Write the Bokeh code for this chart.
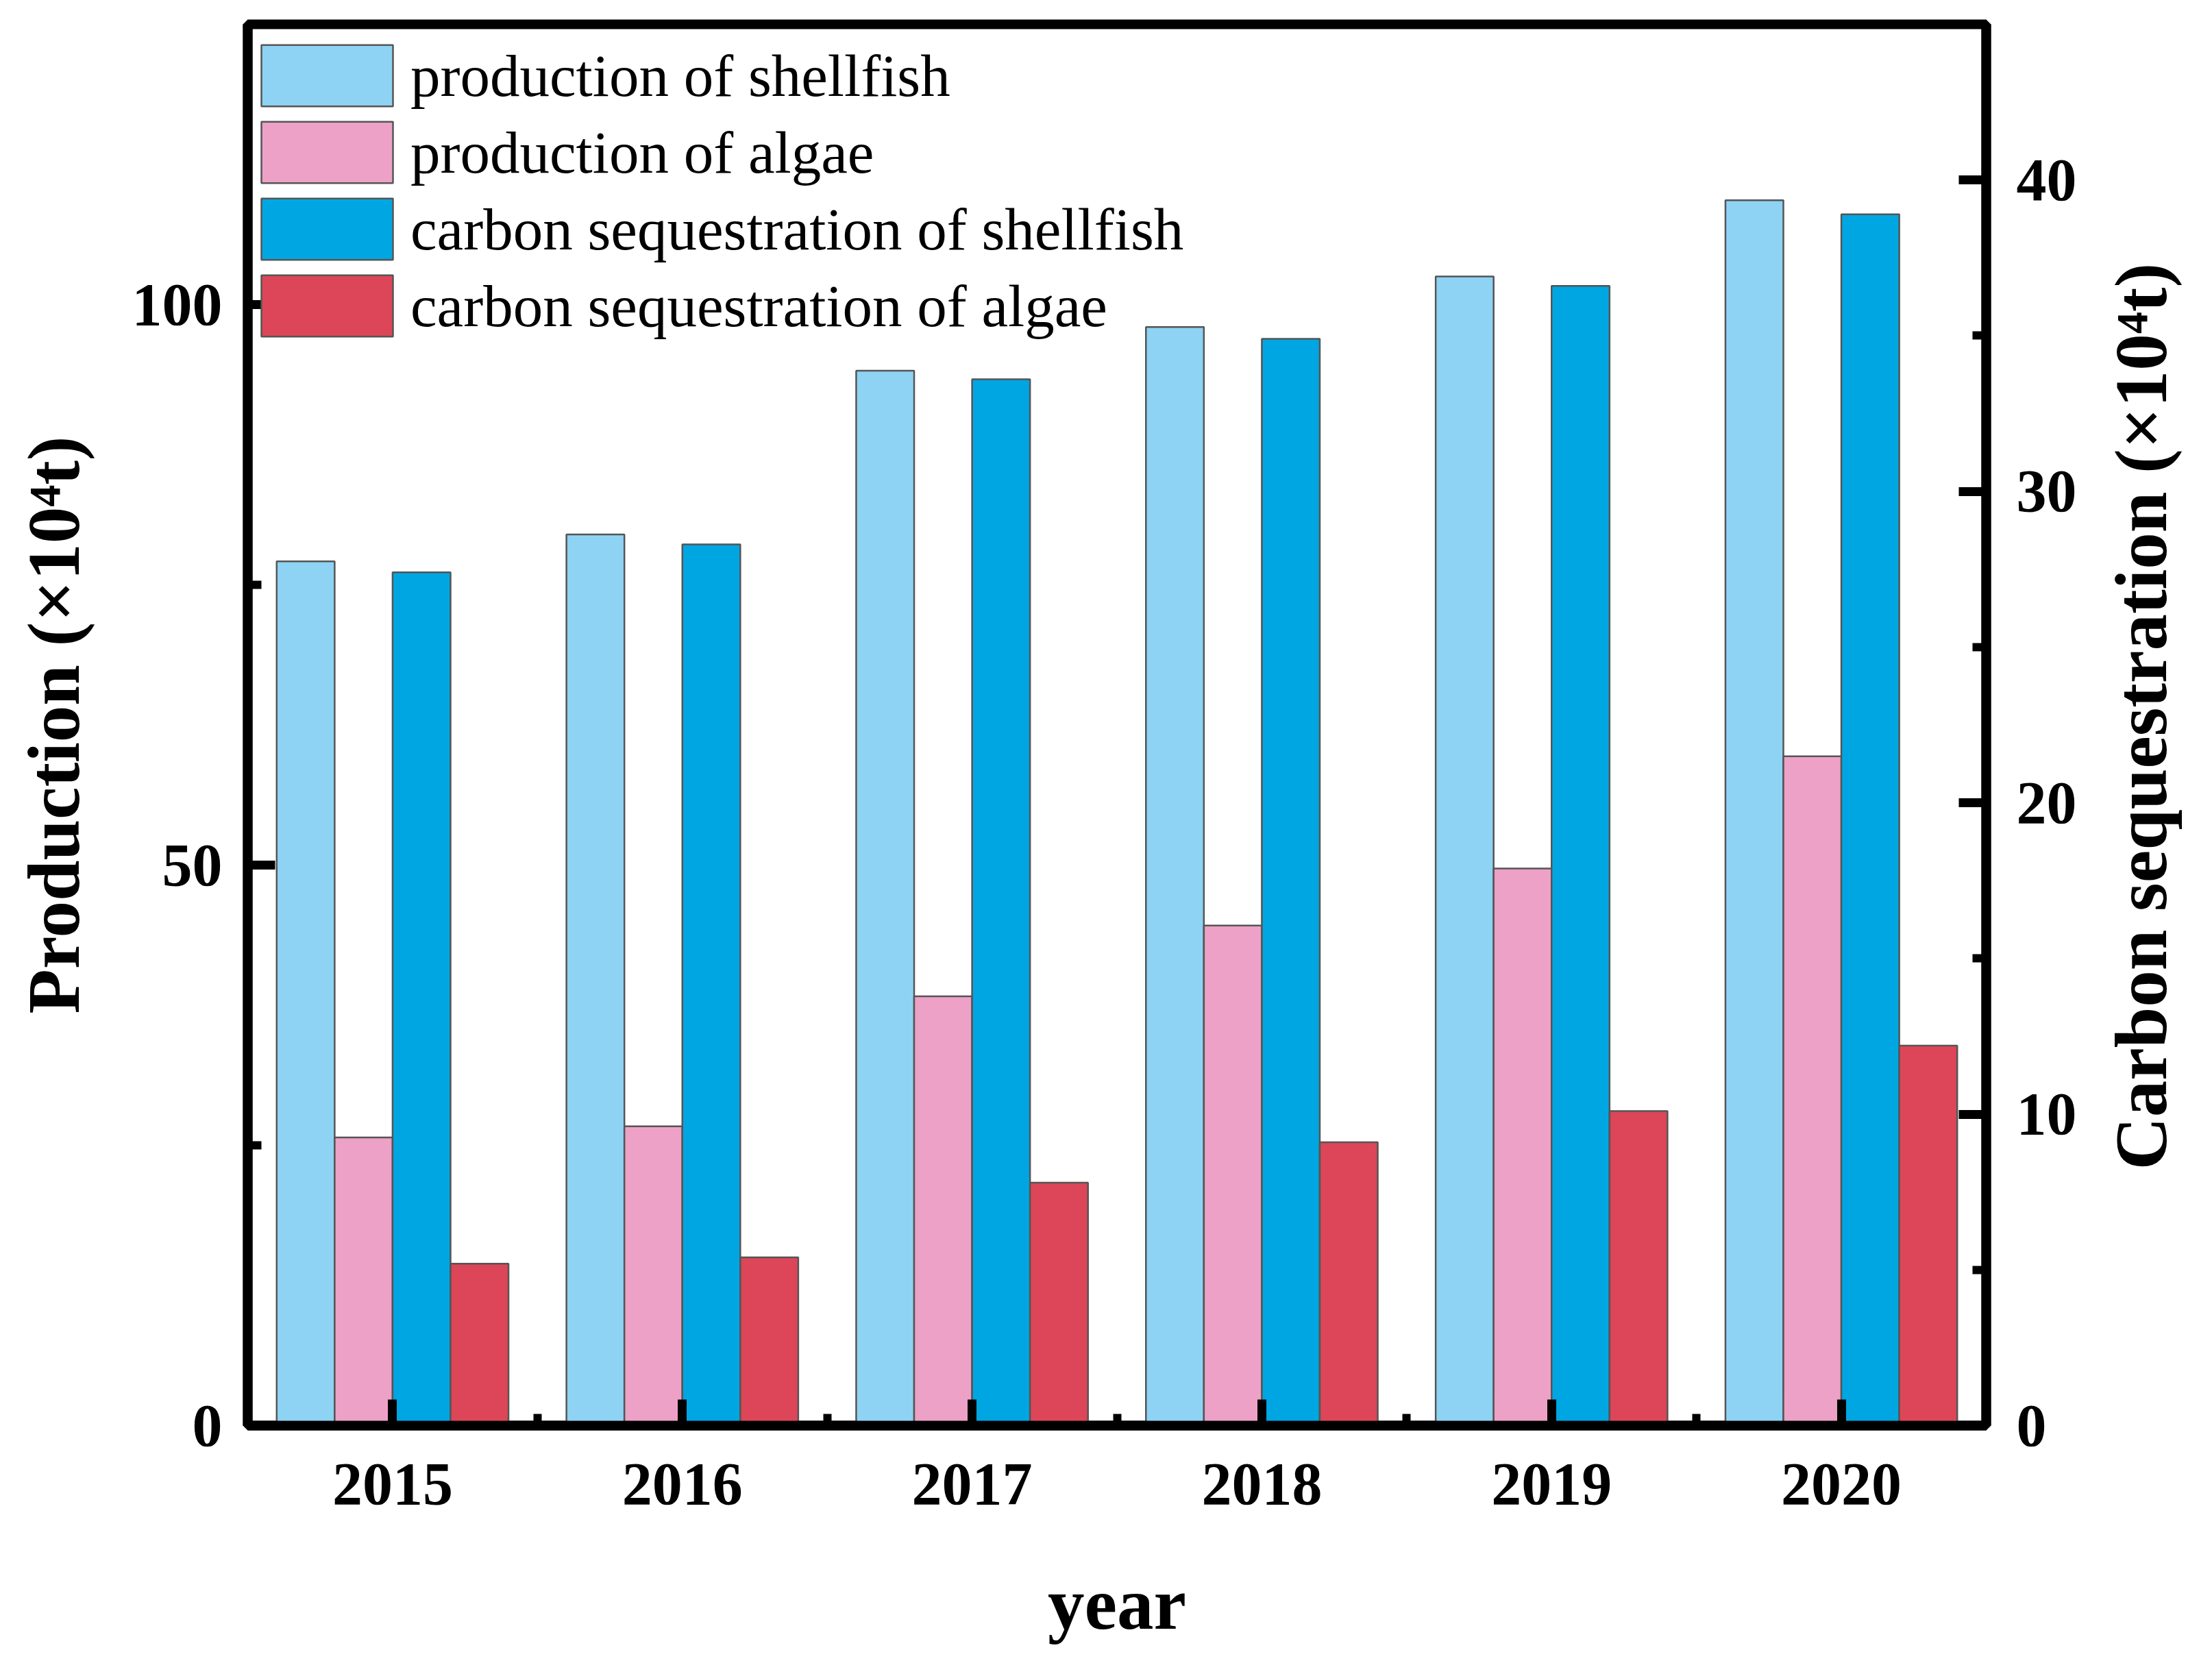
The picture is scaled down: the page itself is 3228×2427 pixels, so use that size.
import math
from bokeh.plotting import figure
from bokeh.layouts import row
from bokeh.models import Range1d, LinearAxis, FixedTicker, ColumnDataSource, Legend, LegendItem
from bokeh.transform import dodge
from bokeh.core.properties import value
from bokeh.embed import file_html
from bokeh.resources import INLINE

# ---- data ----
years = ["2015", "2016", "2017", "2018", "2019", "2020"]
production_shellfish = [77.1, 79.5, 94.1, 98.0, 102.5, 109.3]
production_algae = [25.7, 26.7, 38.3, 44.6, 49.7, 59.7]
carbon_seq_shellfish = [27.4, 28.3, 33.6, 34.9, 36.6, 38.9]
carbon_seq_algae = [5.2, 5.4, 7.8, 9.1, 10.1, 12.2]

left_ticks = [0, 50, 100]
left_minor = [25, 75]
right_ticks = [0, 10, 20, 30, 40]
right_minor = [5, 15, 25, 35]

colors = ["#8ed3f4", "#eda1c6", "#00a6e2", "#dc4658"]
labels = ["production of shellfish", "production of algae",
          "carbon sequestration of shellfish", "carbon sequestration of algae"]
right_axis_title = ["Carbon sequestration (×10⁴t)"]

FONT = "Liberation Serif"

x_idx = list(range(len(years)))
src = ColumnDataSource(dict(x=x_idx, ps=production_shellfish, pa=production_algae,
                            cs=carbon_seq_shellfish, ca=carbon_seq_algae))

W_MAIN, W_SIDE, H = 3060, 150, 2411
BL, BT, BR, BB = 361, 35, 162, 331
p = figure(width=W_MAIN, height=H,
           x_range=Range1d(-0.5, len(years) - 0.5),
           y_range=Range1d(0, 125),
           output_backend="svg", toolbar_location=None,
           min_border_left=BL, min_border_right=BR,
           min_border_top=BT, min_border_bottom=BB,
           background_fill_color="white", border_fill_color="white")
p.extra_y_ranges = {"cs": Range1d(0, 45)}
p.xgrid.visible = False
p.ygrid.visible = False
p.outline_line_color = "black"
p.outline_line_width = 14
p.outline_line_alpha = 1.0

offsets = [-0.3, -0.1, 0.1, 0.3]
fields = ["ps", "pa", "cs", "ca"]
renderers = []
for off, fld, col in zip(offsets, fields, colors):
    kw = {}
    if fld in ("cs", "ca"):
        kw["y_range_name"] = "cs"
    r = p.vbar(x=dodge("x", off), top=fld, bottom=0, width=0.2, source=src,
               fill_color=col, line_color="#555555", line_width=2.5, **kw)
    renderers.append(r)

def style_axis(ax):
    ax.axis_line_width = 14
    ax.axis_line_color = "black"
    ax.major_tick_line_width = 13
    ax.minor_tick_line_width = 12
    ax.major_tick_line_color = "black"
    ax.minor_tick_line_color = "black"
    ax.major_tick_out = 0
    ax.minor_tick_out = 0
    ax.major_label_text_font = FONT
    ax.major_label_text_font_style = "bold"
    ax.major_label_text_font_size = "88px"
    ax.major_label_text_color = "black"
    ax.axis_label_text_font = FONT
    ax.axis_label_text_font_style = "bold"
    ax.axis_label_text_font_size = "107px"
    ax.axis_label_text_color = "black"

# bottom axis
xa = p.xaxis[0]
style_axis(xa)
xa.ticker = FixedTicker(ticks=x_idx, minor_ticks=[i + 0.5 for i in x_idx[:-1]])
xa.major_label_overrides = {i: y for i, y in enumerate(years)}
xa.major_tick_in = 38
xa.minor_tick_in = 17
xa.major_label_standoff = 56
xa.axis_label = "year"
xa.axis_label_standoff = 84

# left axis
ya = p.yaxis[0]
style_axis(ya)
ya.ticker = FixedTicker(ticks=left_ticks, minor_ticks=left_minor)
ya.major_tick_in = 40
ya.minor_tick_in = 20
ya.major_label_standoff = 37
ya.axis_label = "Production (×10⁴t)"
ya.axis_label_standoff = 52

# right axis (its title is drawn in the narrow strip to the right, reading bottom-to-top)
ra = LinearAxis(y_range_name="cs")
style_axis(ra)
ra.ticker = FixedTicker(ticks=right_ticks, minor_ticks=right_minor)
ra.major_tick_in = 40
ra.minor_tick_in = 20
ra.major_label_standoff = 44
p.add_layout(ra, "right")

# legend placed by its bottom-left corner (screen px from the frame's bottom-left)
GH = 112
frame_h = H - BT - BB
legend = Legend(items=[LegendItem(label=l, renderers=[r]) for l, r in zip(labels, renderers)],
                location=(-4, frame_h - 19 - 4 * GH),
                orientation="vertical",
                glyph_width=240, glyph_height=GH, label_standoff=2, spacing=0,
                label_text_font=FONT, label_text_font_size="87px", label_text_color="black",
                border_line_alpha=0, background_fill_alpha=0, margin=0, padding=0)
p.add_layout(legend)

# side strip holding the right-hand axis title
side = figure(width=W_SIDE, height=H, x_range=Range1d(0, 1), y_range=Range1d(0, 1),
              output_backend="svg", toolbar_location=None,
              x_axis_location=None, y_axis_location=None,
              min_border_left=0, min_border_right=0,
              min_border_top=BT, min_border_bottom=BB,
              background_fill_color="white", border_fill_color="white")
side.outline_line_color = None
side.xgrid.visible = False
side.ygrid.visible = False
side_src = ColumnDataSource(dict(x=[0.433], y=[0.506], t=right_axis_title))
side.text(x="x", y="y", text="t", source=side_src, angle=math.pi / 2,
          text_align="center", text_baseline="middle",
          text_font=value(FONT), text_font_style="bold", text_font_size="107px",
          text_color="black")

layout = row(p, side, spacing=0)
open("out.html", "w").write(file_html(layout, INLINE))
